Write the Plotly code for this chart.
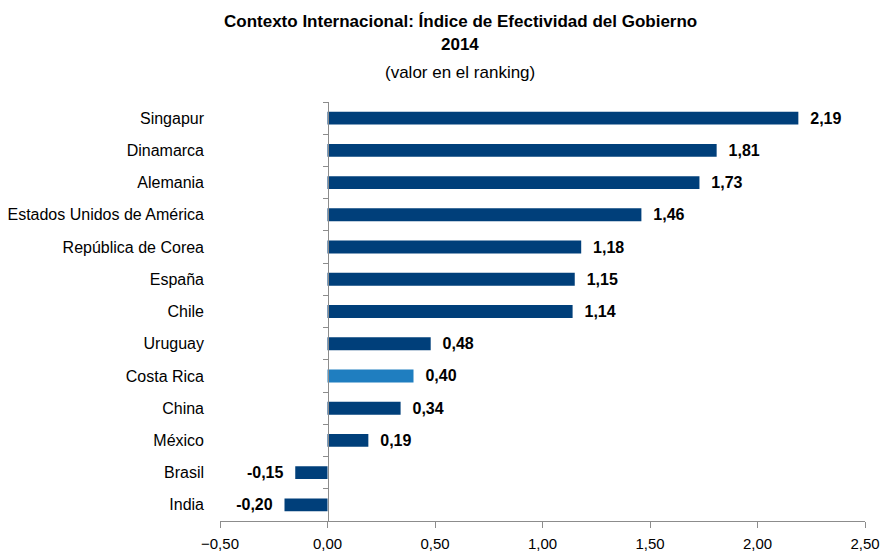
import plotly.graph_objects as go

countries = ["Singapur", "Dinamarca", "Alemania", "Estados Unidos de América",
             "República de Corea", "España", "Chile", "Uruguay", "Costa Rica",
             "China", "México", "Brasil", "India"]
values = [2.19, 1.81, 1.73, 1.46, 1.18, 1.15, 1.14, 0.48, 0.40, 0.34, 0.19, -0.15, -0.20]
highlight = "Costa Rica"
x_ticks = [-0.5, 0.0, 0.5, 1.0, 1.5, 2.0, 2.5]

DARK = "#003F7A"
LIGHT = "#1F7EC0"
FONT = "Liberation Sans Narrow, Arial Narrow, Liberation Sans, Arial, sans-serif"

colors = [LIGHT if c == highlight else DARK for c in countries]
NB = "\u00a0"
templates = [(NB * 2 + "%{x:.2f}") if v >= 0 else ("%{x:.2f}" + NB * 2) for v in values]

W, H = 880, 555
L, R, T, B = 220, 15, 102, 34
PH = H - T - B
PW = W - L - R

fig = go.Figure()
fig.add_trace(go.Bar(
    x=values, y=countries, orientation="h",
    marker=dict(color=colors, line=dict(width=0)),
    texttemplate=templates, textposition="outside", constraintext="none",
    textfont=dict(family=FONT, size=16, color="black", weight="bold"),
    cliponaxis=False, hoverinfo="skip", showlegend=False,
))
# invisible trace for the axis drawn at zero
fig.add_trace(go.Bar(
    x=[0] * len(values), y=countries, orientation="h", yaxis="y2",
    marker=dict(opacity=0), hoverinfo="skip", showlegend=False,
))

fig.update_layout(
    width=W, height=H,
    margin=dict(l=L, r=R, t=T, b=B, autoexpand=False),
    paper_bgcolor="white", plot_bgcolor="white",
    separators=",.",
    bargap=0.6,
    font=dict(family=FONT, size=15, color="black"),
    xaxis=dict(
        range=[-0.5, 2.5], tickvals=x_ticks, tickformat=".2f",
        showgrid=False, zeroline=False, automargin=False,
        showline=True, linecolor="#8c8c8c", linewidth=1,
        ticks="outside", ticklen=6, tickcolor="#8c8c8c",
        tickfont=dict(size=15), domain=[0, 1], ticklabelstandoff=3,
        ticklabeloverflow="allow",
    ),
    yaxis=dict(
        categoryorder="array", categoryarray=countries[::-1],
        autorange=False, range=[-0.5, len(countries) - 0.5],
        showgrid=False, zeroline=False, showline=False, ticks="",
        ticklabelstandoff=15, tickfont=dict(size=16), automargin=False,
    ),
    yaxis2=dict(
        matches="y", overlaying="y", anchor="free", position=1 / 6,
        side="left", showticklabels=False, showgrid=False, zeroline=False,
        showline=True, linecolor="#8c8c8c", linewidth=1, automargin=False,
        ticks="outside", tickson="boundaries", ticklen=5, tickcolor="#8c8c8c",
    ),
    annotations=[
        dict(text="<b>Contexto Internacional: Índice de Efectividad del Gobierno</b>",
             xref="paper", yref="paper", x=(460 - L) / PW, y=(H - B - 21) / PH,
             xanchor="center", yanchor="middle", showarrow=False,
             font=dict(size=17)),
        dict(text="<b>2014</b>", xref="paper", yref="paper", x=(460 - L) / PW,
             y=(H - B - 45) / PH,
             xanchor="center", yanchor="middle", showarrow=False, font=dict(size=17)),
        dict(text="(valor en el ranking)", xref="paper", yref="paper", x=(460 - L) / PW,
             y=(H - B - 72) / PH, xanchor="center", yanchor="middle", showarrow=False,
             font=dict(size=17)),
    ],
)

fig.write_html("out.html",
               config={"displayModeBar": False},
               post_script="document.body.style.margin='0';document.body.style.overflow='hidden';")
